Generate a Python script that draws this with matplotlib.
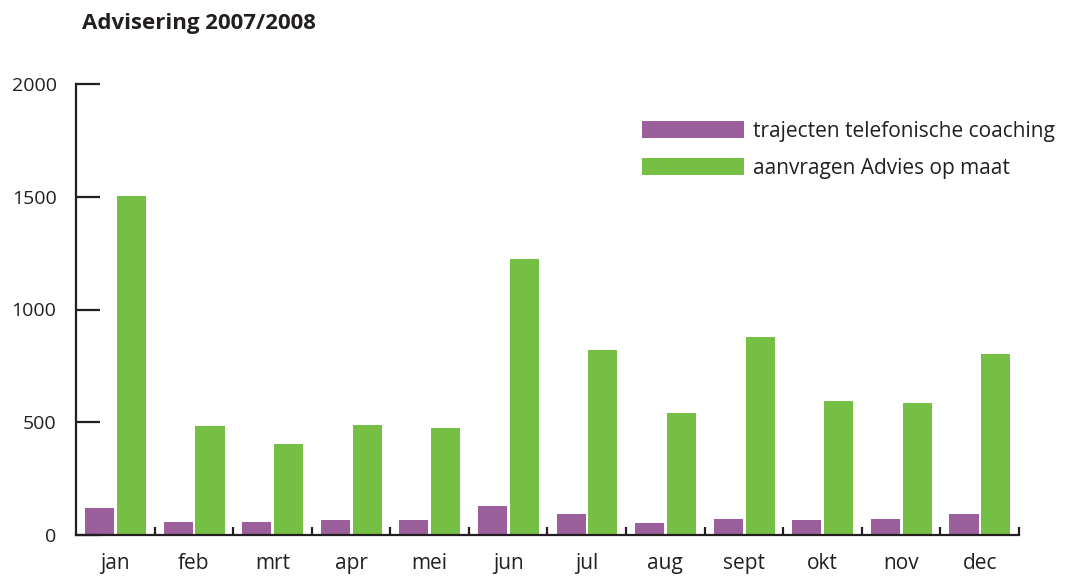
import numpy as np
import matplotlib
matplotlib.use("Agg")
import matplotlib.pyplot as plt

months = ["jan", "feb", "mrt", "apr", "mei", "jun", "jul", "aug", "sept", "okt", "nov", "dec"]
coaching = [120, 57, 57, 66, 66, 128, 93, 53, 71, 66, 71, 93]
advies = [1505, 482, 403, 487, 473, 1226, 819, 540, 876, 593, 584, 801]
yticks = [0, 500, 1000, 1500, 2000]

PURPLE = "#9b5f9b"
GREEN = "#74bf44"
INK = "#231f20"

plt.rcParams["font.family"] = ["Open Sans", "DejaVu Sans"]

fig = plt.figure(figsize=(10.65, 5.78), dpi=100)
ax = fig.add_axes([76 / 1065, 1 - 535 / 578, 943 / 1065, 451 / 578])

x = np.arange(len(months))
ax.bar(x + 0.30, coaching, width=0.37, color=PURPLE, label="trajecten telefonische coaching")
ax.bar(x + 0.705, advies, width=0.37, color=GREEN, label="aanvragen Advies op maat")

ax.set_xlim(0, len(months))
ax.set_ylim(0, 2000)

for s in ("top", "right"):
    ax.spines[s].set_visible(False)
for s in ("left", "bottom"):
    ax.spines[s].set_color(INK)
    ax.spines[s].set_linewidth(1.6)

ax.set_yticks(yticks)
ax.set_yticklabels([str(v) for v in yticks], fontsize=14, color=INK)
ax.tick_params(axis="y", direction="in", length=17, width=1.6, color=INK, pad=14)

# boundary ticks between months, labels at month centres
ax.set_xticks(x[1:].tolist() + [len(months)])
ax.set_xticklabels([])
ax.tick_params(axis="x", direction="in", length=6, width=1.6, color=INK)
ax.set_xticks(x + 0.5, minor=True)
ax.set_xticklabels(months, minor=True, fontsize=15, color=INK)
ax.tick_params(axis="x", which="minor", length=0, pad=13)

leg = ax.legend(loc="upper left", bbox_to_anchor=(0.600, 0.918), frameon=False,
                fontsize=15, handlelength=4.9, handleheight=0.9, handletextpad=0.45,
                labelspacing=0.75, borderpad=0, borderaxespad=0)
for t in leg.get_texts():
    t.set_color(INK)

fig.text(82 / 1065, 1 - 24 / 578, "Advisering 2007/2008", fontsize=16, fontweight="bold",
         color=INK, va="center", ha="left")

fig.savefig("out.png", dpi=100)
